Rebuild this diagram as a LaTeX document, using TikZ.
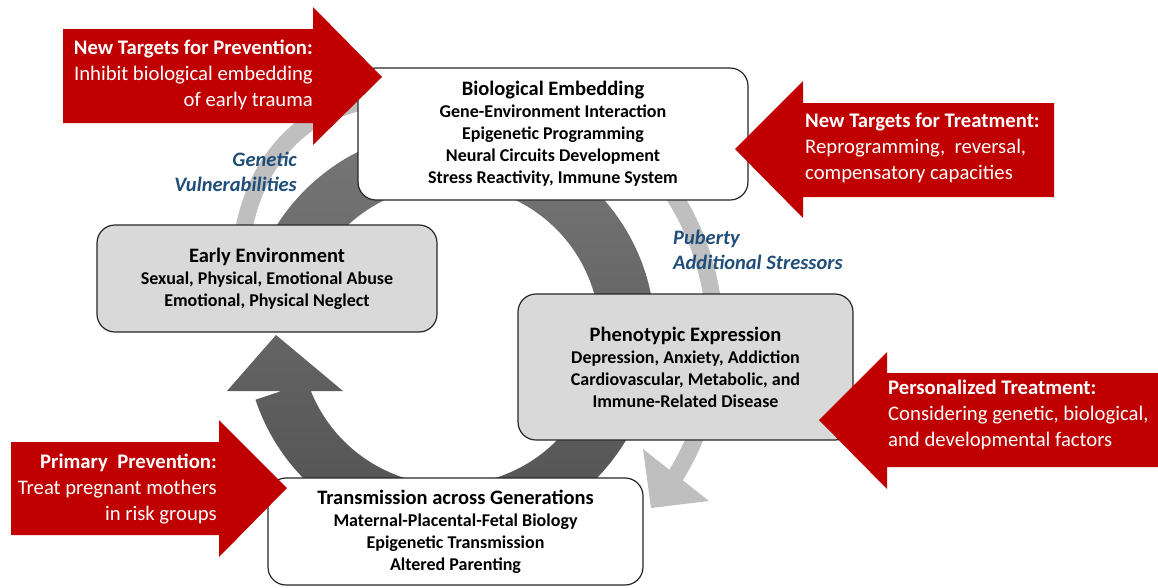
\documentclass[tikz,border=0pt]{standalone}
\usepackage{fontspec}
\setmainfont{Carlito}

\definecolor{arrowred}{RGB}{192,0,0}
\definecolor{boxgray}{RGB}{217,217,217}
\definecolor{ringlight}{RGB}{191,191,191}
\definecolor{ringtop}{RGB}{120,120,120}
\definecolor{ringbot}{RGB}{80,80,80}
\definecolor{labelblue}{RGB}{31,78,121}

\newcommand{\stagetitle}[1]{{\fontsize{20.5}{22}\selectfont #1}}

\begin{document}
\begin{tikzpicture}[x=1pt, y=-1pt,
    stagebox/.style={draw=black!85, line width=1.2pt, rounded corners=18pt,
                     align=center, font=\bfseries\fontsize{18}{22}\selectfont},
    whitebox/.style={stagebox, fill=white},
    graybox/.style={stagebox, fill=boxgray},
    redtext/.style={text=white, inner sep=0pt, font=\fontsize{20.7}{26}\selectfont},
    bluetext/.style={text=labelblue, inner sep=0pt, font=\bfseries\itshape\fontsize{20.5}{25}\selectfont}]
  \useasboundingbox (0,0) rectangle (1158,587);

  % light gray cycle
  \draw[ringlight, line width=17pt] (238,300) .. controls (236,200) and (270,150) .. (310,122)
        .. controls (330,110) and (360,100) .. (420,88);
  \draw[ringlight, line width=17pt] (451,337) ++(-45:264) arc[start angle=-45, end angle=32, radius=264];
  \fill[ringlight] (643,449) -- (651,508) -- (709,501) -- cycle;

  % dark gray cycle
  \shade[top color=ringtop, bottom color=ringbot]
    (450,335) ++(185:205) arc[start angle=185, end angle=521.6, radius=205]
    -- ([shift={(450,335)}]161.6:150) arc[start angle=161.6, end angle=-175, radius=150] -- cycle
    (276,335) -- (343,391) -- (227,391) -- cycle;

  % stages
  \node[whitebox, minimum width=390pt, minimum height=132pt] (bioemb) at (553,134)
    {\stagetitle{Biological Embedding}\\ Gene-Environment Interaction\\ Epigenetic Programming\\
     Neural Circuits Development\\ Stress Reactivity, Immune System};
  \node[graybox, minimum width=340pt, minimum height=107pt] (earlyenv) at (267,278.5)
    {\stagetitle{Early Environment}\\ Sexual, Physical, Emotional Abuse\\ Emotional, Physical Neglect};
  \node[graybox, minimum width=335pt, minimum height=146pt] (phenoexp) at (685.5,367)
    {\stagetitle{Phenotypic Expression}\\ Depression, Anxiety, Addiction\\
     Cardiovascular, Metabolic, and\\ Immune-Related Disease};
  \node[whitebox, minimum width=375pt, minimum height=107pt] (transgen) at (455.5,531.5)
    {\stagetitle{Transmission across Generations}\\ Maternal-Placental-Fetal Biology\\
     Epigenetic Transmission\\ Altered Parenting};

  % red arrows
  \fill[arrowred] (63,29) -- (313,29) -- (313,7) -- (382,77) -- (313,145) -- (313,123) -- (63,123) -- cycle;
  \fill[arrowred] (1054,103) -- (803,103) -- (803,81) -- (735,149) -- (803,218) -- (803,197) -- (1054,197) -- cycle;
  \fill[arrowred] (1158,373) -- (887,373) -- (887,352) -- (819,420) -- (887,489) -- (887,467) -- (1158,467) -- cycle;
  \fill[arrowred] (11,442) -- (219,442) -- (219,420) -- (287,488) -- (219,557) -- (219,535) -- (11,535) -- cycle;

  \node[redtext, anchor=east, align=right] (prevtxt) at (313,75)
    {\textbf{New Targets for Prevention:}\\ Inhibit biological embedding\\ of early trauma};
  \node[redtext, anchor=west, align=left] (treattxt) at (805,148)
    {\textbf{New Targets for Treatment:}\\ Reprogramming,\ \ reversal,\\ compensatory capacities};
  \node[redtext, anchor=west, align=left] (perstxt) at (888,415)
    {\textbf{Personalized Treatment:}\\ Considering genetic, biological,\\ and developmental factors};
  \node[redtext, anchor=east, align=right] (primtxt) at (217,489)
    {\textbf{Primary\ \ Prevention:}\\ Treat pregnant mothers\\ in risk groups};

  % influences
  \node[bluetext, anchor=east, align=right] (genvul) at (297,172) {Genetic\\ Vulnerabilities};
  \node[bluetext, anchor=west, align=left] (pubstress) at (673,250) {Puberty\\ Additional Stressors};
\end{tikzpicture}
\end{document}
